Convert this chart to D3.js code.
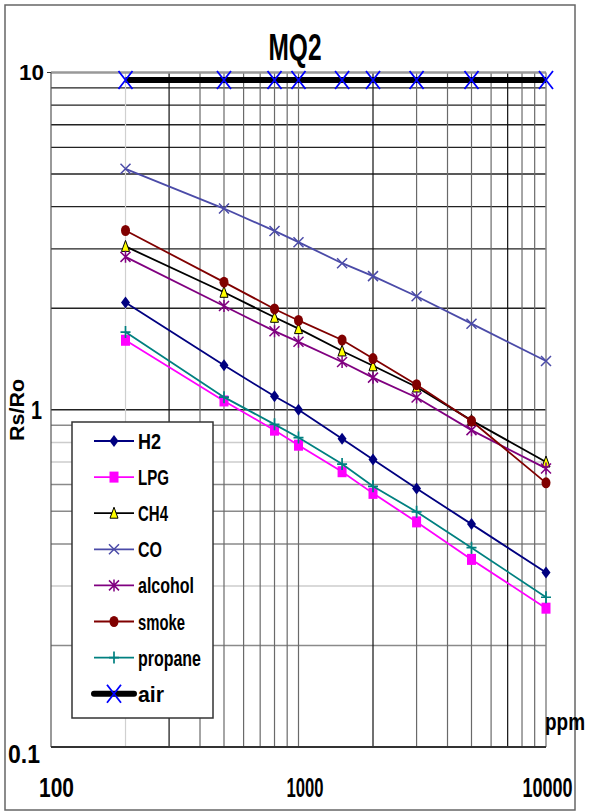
<!DOCTYPE html>
<html lang="en">
<head>
    <meta charset="UTF-8">
    <title>MQ2</title>
    <script src="https://d3js.org/d3.v7.min.js"></script>
    <style>
        body { margin: 0; background: #fff; }
        text { font-family: "Liberation Sans", Arial, sans-serif; font-weight: bold; fill: #000; }
    </style>
</head>
<body>
    <svg id="canvas" width="589" height="812"></svg>
    <script>
        // ppm values where the points were measured
        let ppm = [200, 500, 800, 1000, 1500, 2000, 3000, 5000, 10000];

        let gasNames = ["H2", "LPG", "CH4", "CO", "alcohol", "smoke", "propane", "air"];

        let h2 = [2.08, 1.355, 1.096, 1.0, 0.82, 0.712, 0.584, 0.458, 0.329];
        let lpg = [1.607, 1.062, 0.87, 0.785, 0.655, 0.565, 0.465, 0.36, 0.258];
        let ch4 = [3.05, 2.23, 1.88, 1.74, 1.494, 1.35, 1.168, 0.93, 0.70];
        let co = [5.18, 3.95, 3.39, 3.14, 2.72, 2.49, 2.17, 1.80, 1.395];
        let alcohol = [2.84, 2.03, 1.71, 1.59, 1.386, 1.245, 1.087, 0.87, 0.67];
        let smoke = [3.40, 2.39, 1.99, 1.84, 1.61, 1.418, 1.187, 0.926, 0.607];
        let propane = [1.70, 1.09, 0.905, 0.827, 0.69, 0.593, 0.498, 0.39, 0.278];
        let air = [9.5, 9.5, 9.5, 9.5, 9.5, 9.5, 9.5, 9.5, 9.5];

        let xTickLabels = [100, 1000, 10000];
        let yTickLabels = [0.1, 1, 10];

        let seriesValues = [h2, lpg, ch4, co, alcohol, smoke, propane, air];

        // look of each series (same order as gasNames)
        let styles = [
            { color: "#000080", marker: "diamond", width: 1.8 },
            { color: "#ff00ff", marker: "square", width: 1.8 },
            { color: "#000000", marker: "triangle", width: 1.8 },
            { color: "#4b4ba8", marker: "x", width: 1.8 },
            { color: "#800080", marker: "star", width: 1.8 },
            { color: "#800000", marker: "circle", width: 1.8 },
            { color: "#008080", marker: "plus", width: 1.8 },
            { color: "#000000", marker: "bigx", width: 6 }
        ];
        let legendWidths = [23, 31, 30, 24, 56, 47, 63, 26];

        let plotLeft = 51, plotRight = 546, plotTop = 72.5, plotBottom = 747;
        let canvas = d3.select("#canvas");

        let x = d3.scaleLog().domain([100, 10000]).range([plotLeft, plotRight]);
        let y = d3.scaleLog().domain([0.1, 10]).range([plotBottom, plotTop]);

        // outer frame
        canvas.append("rect")
            .attr("x", 5).attr("y", 5).attr("width", 570).attr("height", 805)
            .attr("fill", "none").attr("stroke", "#666").attr("stroke-width", 1.5);

        // grid
        let lightY = [0.8, 0.7, 0.3];
        canvas.append("g").selectAll("line")
            .data(y.ticks().filter(v => v > 0.1 && v < 10))
            .enter().append("line")
            .attr("x1", plotLeft).attr("x2", plotRight)
            .attr("y1", v => y(v)).attr("y2", v => y(v))
            .attr("stroke", v => v >= 1 ? "#222" : (lightY.some(l => Math.abs(l - v) < 1e-6) ? "#ccc" : "#8a8a8a"))
            .attr("stroke-width", v => v >= 1 ? 1.3 : 1.5);

        let darkX = [300, 2000, 7000];
        canvas.append("g").selectAll("line")
            .data(x.ticks().filter(v => v > 100 && v < 10000))
            .enter().append("line")
            .attr("y1", plotTop).attr("y2", plotBottom)
            .attr("x1", v => x(v)).attr("x2", v => x(v))
            .attr("stroke", v => v === 200 ? "#d0d0d0" : (darkX.includes(v) ? "#111" : "#6a6a6a"))
            .attr("stroke-width", 1.2);

        // plot borders
        canvas.append("line").attr("x1", plotLeft).attr("x2", plotRight).attr("y1", plotTop).attr("y2", plotTop)
            .attr("stroke", "#999").attr("stroke-width", 2.5);
        canvas.append("line").attr("x1", plotRight).attr("x2", plotRight).attr("y1", plotTop).attr("y2", plotBottom)
            .attr("stroke", "#888").attr("stroke-width", 1.5);
        canvas.append("line").attr("x1", plotLeft).attr("x2", plotLeft).attr("y1", plotTop).attr("y2", plotBottom)
            .attr("stroke", "#555").attr("stroke-width", 1.2);
        canvas.append("line").attr("x1", plotLeft).attr("x2", plotRight).attr("y1", plotBottom).attr("y2", plotBottom)
            .attr("stroke", "#333").attr("stroke-width", 2);
        canvas.append("line").attr("x1", plotLeft - 4).attr("x2", plotLeft).attr("y1", plotTop).attr("y2", plotTop)
            .attr("stroke", "#333").attr("stroke-width", 1);

        // axes (labels only)
        let xAxis = canvas.append("g")
            .attr("transform", `translate(0, ${plotBottom})`)
            .call(d3.axisBottom(x).tickValues(xTickLabels).tickFormat(d3.format("d")).tickSize(0).tickPadding(31));
        xAxis.select(".domain").remove();
        xAxis.selectAll("text")
            .attr("font-size", 27).attr("font-family", null)
            .attr("dx", d => d === 100 ? 5 : (d === 1000 ? 6 : 1))
            .attr("textLength", d => d === 100 ? 35 : (d === 1000 ? 37 : 50))
            .attr("lengthAdjust", "spacingAndGlyphs");

        let yAxis = canvas.append("g")
            .attr("transform", `translate(${plotLeft}, 0)`)
            .call(d3.axisLeft(y).tickValues(yTickLabels).tickFormat(d => d === 0.1 ? "0.1" : d3.format("d")(d)).tickSize(0).tickPadding(7));
        yAxis.select(".domain").remove();
        yAxis.selectAll("text")
            .attr("font-size", d => d === 10 ? 22 : 26).attr("font-family", null)
            .attr("dx", d => d === 1 ? -2 : (d === 0.1 ? -4 : 0))
            .attr("dy", d => d === 0.1 ? "0.6em" : "0.34em")
            .attr("textLength", d => d === 10 ? 25 : (d === 1 ? 11 : 32))
            .attr("lengthAdjust", "spacingAndGlyphs");

        // titles
        canvas.append("text").text("MQ2")
            .attr("x", 295).attr("y", 60).attr("text-anchor", "middle")
            .attr("font-size", 37).attr("textLength", 53).attr("lengthAdjust", "spacingAndGlyphs");
        canvas.append("text").text("Rs/Ro")
            .attr("transform", "translate(24, 410) rotate(-90)")
            .attr("text-anchor", "middle")
            .attr("font-size", 21).attr("textLength", 62).attr("lengthAdjust", "spacingAndGlyphs");
        canvas.append("text").text("ppm")
            .attr("x", 545).attr("y", 730)
            .attr("font-size", 23).attr("textLength", 40).attr("lengthAdjust", "spacingAndGlyphs");

        let drawMarker = (g, type, color, size) => {
            let s = size / 2;
            if (type === "diamond") {
                g.append("path").attr("d", `M0,${-s - 1}L${s - 0.5},0L0,${s + 1}L${-s + 0.5},0Z`).attr("fill", color);
            } else if (type === "square") {
                g.append("rect").attr("x", -s + 0.5).attr("y", -s - 0.5).attr("width", size - 1).attr("height", size + 1).attr("fill", color);
            } else if (type === "triangle") {
                g.append("path").attr("d", `M0,${-s - 1}L${s - 1},${s}L${-s + 1},${s}Z`)
                    .attr("fill", "#ffff00").attr("stroke", "#000").attr("stroke-width", 1);
            } else if (type === "circle") {
                g.append("ellipse").attr("rx", s - 0.5).attr("ry", s + 0.5).attr("fill", color);
            } else if (type === "x" || type === "bigx" || type === "star") {
                let c = type === "bigx" ? "#0000ff" : color;
                let sy = type === "bigx" ? s + 2 : s;
                g.append("path").attr("d", `M${-s},${-sy}L${s},${sy}M${s},${-sy}L${-s},${sy}` + (type === "star" ? `M0,${-s - 1}L0,${s + 1}` : ""))
                    .attr("stroke", c).attr("stroke-width", type === "bigx" ? 1.8 : 1.5).attr("fill", "none");
            } else if (type === "plus") {
                g.append("path").attr("d", `M${-s},0L${s},0M0,${-s - 1}L0,${s + 1}`)
                    .attr("stroke", color).attr("stroke-width", 1.7).attr("fill", "none");
            }
        };

        let line = d3.line().x((d, i) => x(ppm[i])).y(d => y(d));

        seriesValues.forEach((values, k) => {
            let st = styles[k];
            let g = canvas.append("g");
            g.append("path").datum(values).attr("d", line)
                .attr("fill", "none").attr("stroke", st.color).attr("stroke-width", st.width);
            values.forEach((v, i) => {
                let m = g.append("g").attr("transform", `translate(${x(ppm[i])}, ${y(v)})`);
                drawMarker(m, st.marker, st.color, st.marker === "bigx" ? 14 : 10);
            });
        });

        // legend
        let legend = canvas.append("g");
        legend.append("rect")
            .attr("x", 72).attr("y", 422).attr("width", 141).attr("height", 296)
            .attr("fill", "#fff").attr("stroke", "#333").attr("stroke-width", 1.5);
        gasNames.forEach((name, k) => {
            let st = styles[k];
            let ly = 441 + k * 36.1;
            legend.append("line").attr("x1", 94).attr("x2", 134).attr("y1", ly).attr("y2", ly)
                .attr("stroke", st.color).attr("stroke-width", st.width).attr("stroke-linecap", st.width > 3 ? "round" : "butt");
            let m = legend.append("g").attr("transform", `translate(114, ${ly})`);
            drawMarker(m, st.marker, st.color, st.marker === "bigx" ? 14 : 10);
            legend.append("text").text(name)
                .attr("x", 138).attr("y", ly + 8)
                .attr("font-size", 22)
                .attr("textLength", legendWidths[k]).attr("lengthAdjust", "spacingAndGlyphs");
        });
    </script>
</body>
</html>
